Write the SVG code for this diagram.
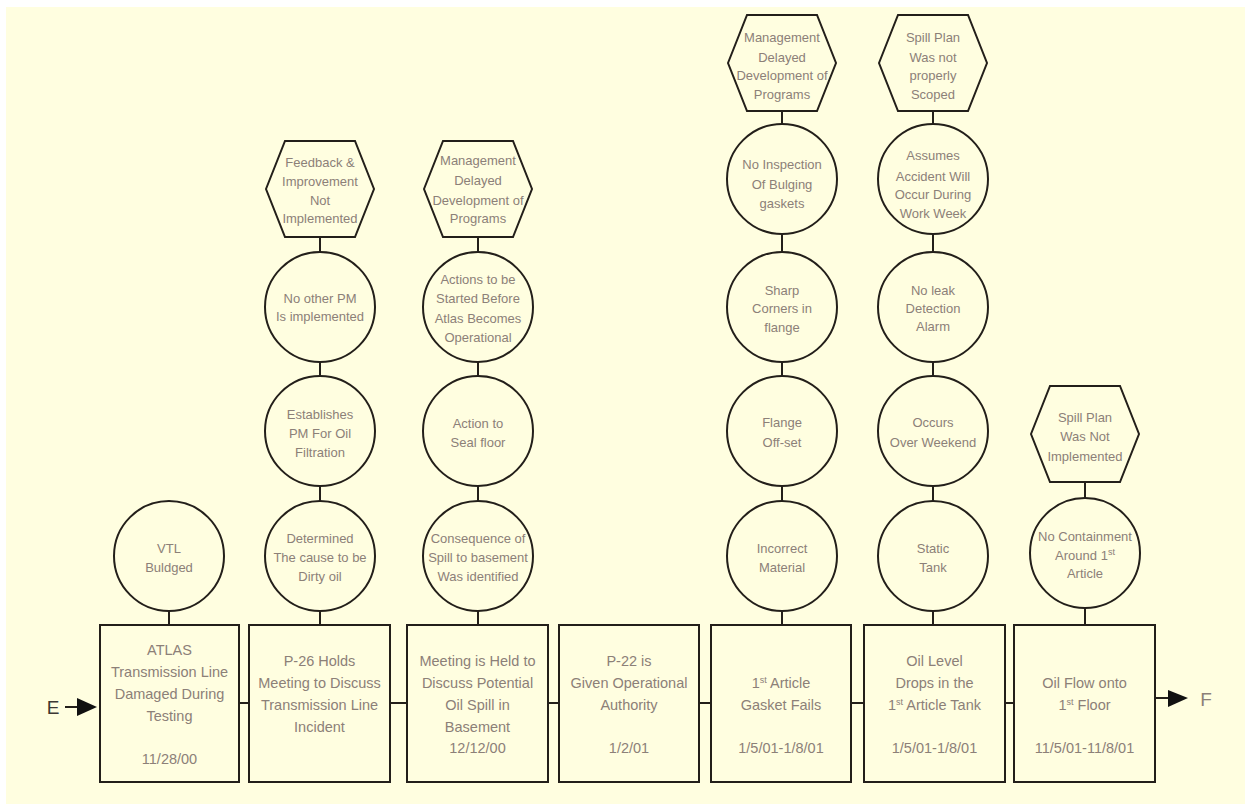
<svg xmlns="http://www.w3.org/2000/svg" width="1245" height="804" viewBox="0 0 1245 804">
<style>
.ln{stroke:#231f1a;stroke-width:2;fill:none}
.sh{stroke:#231f1a;stroke-width:2;fill:#fffee0}
.t{font-family:"Liberation Sans",Arial,sans-serif;fill:#8c8078;text-anchor:middle}
.c{font-size:13px}
.b{font-size:14.5px}
.s{font-size:9px}
.lbl{font-family:"Liberation Sans",Arial,sans-serif;font-size:19px}
</style>
<rect x="0" y="0" width="1245" height="804" fill="#ffffff"/>
<rect x="6" y="7" width="1239" height="797" fill="#fffee0"/>
<g id="connectors">
<path class="ln" d="M169 611V625M320 237V252M320 362V377M320 486V501M320 611V625M478 237V252M478 362V377M478 486V501M478 611V625M782 111V125M782 233V252M782 362V377M782 486V501M782 611V625M933 111V125M933 233V252M933 362V377M933 486V501M933 611V625M1085 482V498M1085 608V625"/>
<path class="ln" d="M239 703H249M390 703H407M548 703H559M699 703H711M851 703H864M1005 703H1014"/>
<path class="ln" d="M65 707H80M1155 698H1170"/>
<polygon points="77,698 97,707 77,716" fill="#111"/>
<polygon points="1168,690 1188,698 1168,707" fill="#111"/>
<text class="lbl" x="53" y="714" fill="#3c3834" text-anchor="middle">E</text>
<text class="lbl" x="1206" y="706" fill="#8c8078" text-anchor="middle">F</text>
</g>
<g id="box1"><rect class="sh" x="100" y="625" width="139" height="157"/>
<text class="t b" x="169.5" y="655">ATLAS</text><text class="t b" x="169.5" y="677">Transmission Line</text><text class="t b" x="169.5" y="699">Damaged During</text><text class="t b" x="169.5" y="721">Testing</text><text class="t b" x="169.5" y="764">11/28/00</text></g>
<g id="box2"><rect class="sh" x="249" y="625" width="141" height="157"/>
<text class="t b" x="319.5" y="666">P-26 Holds</text><text class="t b" x="319.5" y="688">Meeting to Discuss</text><text class="t b" x="319.5" y="710">Transmission Line</text><text class="t b" x="319.5" y="732">Incident</text></g>
<g id="box3"><rect class="sh" x="407" y="625" width="141" height="157"/>
<text class="t b" x="477.5" y="666">Meeting is Held to</text><text class="t b" x="477.5" y="688">Discuss Potential</text><text class="t b" x="477.5" y="710">Oil Spill in</text><text class="t b" x="477.5" y="732">Basement</text><text class="t b" x="477.5" y="753">12/12/00</text></g>
<g id="box4"><rect class="sh" x="559" y="625" width="140" height="157"/>
<text class="t b" x="629" y="666">P-22 is</text><text class="t b" x="629" y="688">Given Operational</text><text class="t b" x="629" y="710">Authority</text><text class="t b" x="629" y="753">1/2/01</text></g>
<g id="box5"><rect class="sh" x="711" y="625" width="140" height="157"/>
<text class="t b" x="781" y="688">1<tspan class="s" baseline-shift="super">st</tspan> Article</text><text class="t b" x="781" y="710">Gasket Fails</text><text class="t b" x="781" y="753">1/5/01-1/8/01</text></g>
<g id="box6"><rect class="sh" x="864" y="625" width="141" height="157"/>
<text class="t b" x="934.5" y="666">Oil Level</text><text class="t b" x="934.5" y="688">Drops in the</text><text class="t b" x="934.5" y="710">1<tspan class="s" baseline-shift="super">st</tspan> Article Tank</text><text class="t b" x="934.5" y="753">1/5/01-1/8/01</text></g>
<g id="box7"><rect class="sh" x="1014" y="625" width="141" height="157"/>
<text class="t b" x="1084.5" y="688">Oil Flow onto</text><text class="t b" x="1084.5" y="710">1<tspan class="s" baseline-shift="super">st</tspan> Floor</text><text class="t b" x="1084.5" y="753">11/5/01-11/8/01</text></g>
<g id="c1-1"><circle class="sh" cx="169" cy="556" r="55"/><text class="t c" x="169" y="552.5">VTL</text><text class="t c" x="169" y="571.5">Buldged</text></g>
<g id="h2"><polygon class="sh" points="266,189 285,141 355,141 374,189 355,237 285,237"/>
<text class="t c" x="320" y="166.5">Feedback &amp;</text><text class="t c" x="320" y="185.5">Improvement</text><text class="t c" x="320" y="204.5">Not</text><text class="t c" x="320" y="222.5">Implemented</text></g>
<g id="c2-1"><circle class="sh" cx="320" cy="307" r="55"/><text class="t c" x="320" y="302.5">No other PM</text><text class="t c" x="320" y="320.5">Is implemented</text></g>
<g id="c2-2"><circle class="sh" cx="320" cy="431" r="55"/><text class="t c" x="320" y="418.5">Establishes</text><text class="t c" x="320" y="437.5">PM For Oil</text><text class="t c" x="320" y="456.5">Filtration</text></g>
<g id="c2-3"><circle class="sh" cx="320" cy="556" r="55"/><text class="t c" x="320" y="542.5">Determined</text><text class="t c" x="320" y="561.5">The cause to be</text><text class="t c" x="320" y="580.5">Dirty oil</text></g>
<g id="h3"><polygon class="sh" points="424,189 443,141 513,141 532,189 513,237 443,237"/>
<text class="t c" x="478" y="164.5">Management</text><text class="t c" x="478" y="184.5">Delayed</text><text class="t c" x="478" y="204.5">Development of</text><text class="t c" x="478" y="222.5">Programs</text></g>
<g id="c3-1"><circle class="sh" cx="478" cy="307" r="55"/><text class="t c" x="478" y="283.5">Actions to be</text><text class="t c" x="478" y="302.5">Started Before</text><text class="t c" x="478" y="322.5">Atlas Becomes</text><text class="t c" x="478" y="341.5">Operational</text></g>
<g id="c3-2"><circle class="sh" cx="478" cy="431" r="55"/><text class="t c" x="478" y="427.5">Action to</text><text class="t c" x="478" y="446.5">Seal  floor</text></g>
<g id="c3-3"><circle class="sh" cx="478" cy="556" r="55"/><text class="t c" x="478" y="542.5">Consequence of</text><text class="t c" x="478" y="561.5">Spill to basement</text><text class="t c" x="478" y="580.5">Was identified</text></g>
<g id="h5"><polygon class="sh" points="728,63 747,15 817,15 836,63 817,111 747,111"/>
<text class="t c" x="782" y="41.5">Management</text><text class="t c" x="782" y="61.5">Delayed</text><text class="t c" x="782" y="79.5">Development of</text><text class="t c" x="782" y="98.5">Programs</text></g>
<g id="c5-1"><circle class="sh" cx="782" cy="179" r="55"/><text class="t c" x="782" y="168.5">No Inspection</text><text class="t c" x="782" y="188.5">Of Bulging</text><text class="t c" x="782" y="207.5">gaskets</text></g>
<g id="c5-2"><circle class="sh" cx="782" cy="307" r="55"/><text class="t c" x="782" y="294.5">Sharp</text><text class="t c" x="782" y="312.5">Corners in</text><text class="t c" x="782" y="331.5">flange</text></g>
<g id="c5-3"><circle class="sh" cx="782" cy="431" r="55"/><text class="t c" x="782" y="426.5">Flange</text><text class="t c" x="782" y="446.5">Off-set</text></g>
<g id="c5-4"><circle class="sh" cx="782" cy="556" r="55"/><text class="t c" x="782" y="552.5">Incorrect</text><text class="t c" x="782" y="571.5">Material</text></g>
<g id="h6"><polygon class="sh" points="879,63 898,15 968,15 987,63 968,111 898,111"/>
<text class="t c" x="933" y="41.5">Spill Plan</text><text class="t c" x="933" y="61.5">Was not</text><text class="t c" x="933" y="79.5">properly</text><text class="t c" x="933" y="98.5">Scoped</text></g>
<g id="c6-1"><circle class="sh" cx="933" cy="179" r="55"/><text class="t c" x="933" y="159.5">Assumes</text><text class="t c" x="933" y="180.5">Accident Will</text><text class="t c" x="933" y="198.5">Occur During</text><text class="t c" x="933" y="217.5">Work Week</text></g>
<g id="c6-2"><circle class="sh" cx="933" cy="307" r="55"/><text class="t c" x="933" y="294.5">No leak</text><text class="t c" x="933" y="312.5">Detection</text><text class="t c" x="933" y="330.5">Alarm</text></g>
<g id="c6-3"><circle class="sh" cx="933" cy="431" r="55"/><text class="t c" x="933" y="426.5">Occurs</text><text class="t c" x="933" y="446.5">Over Weekend</text></g>
<g id="c6-4"><circle class="sh" cx="933" cy="556" r="55"/><text class="t c" x="933" y="552.5">Static</text><text class="t c" x="933" y="571.5">Tank</text></g>
<g id="h7"><polygon class="sh" points="1031,434 1050,386 1120,386 1139,434 1120,482 1050,482"/>
<text class="t c" x="1085" y="421.5">Spill Plan</text><text class="t c" x="1085" y="440.5">Was Not</text><text class="t c" x="1085" y="460.5">Implemented</text></g>
<g id="c7-1"><circle class="sh" cx="1085" cy="553" r="55"/><text class="t c" x="1085" y="540.5">No Containment</text><text class="t c" x="1085" y="559.5">Around 1<tspan class="s" baseline-shift="super">st</tspan></text><text class="t c" x="1085" y="577.5">Article</text></g>
</svg>
